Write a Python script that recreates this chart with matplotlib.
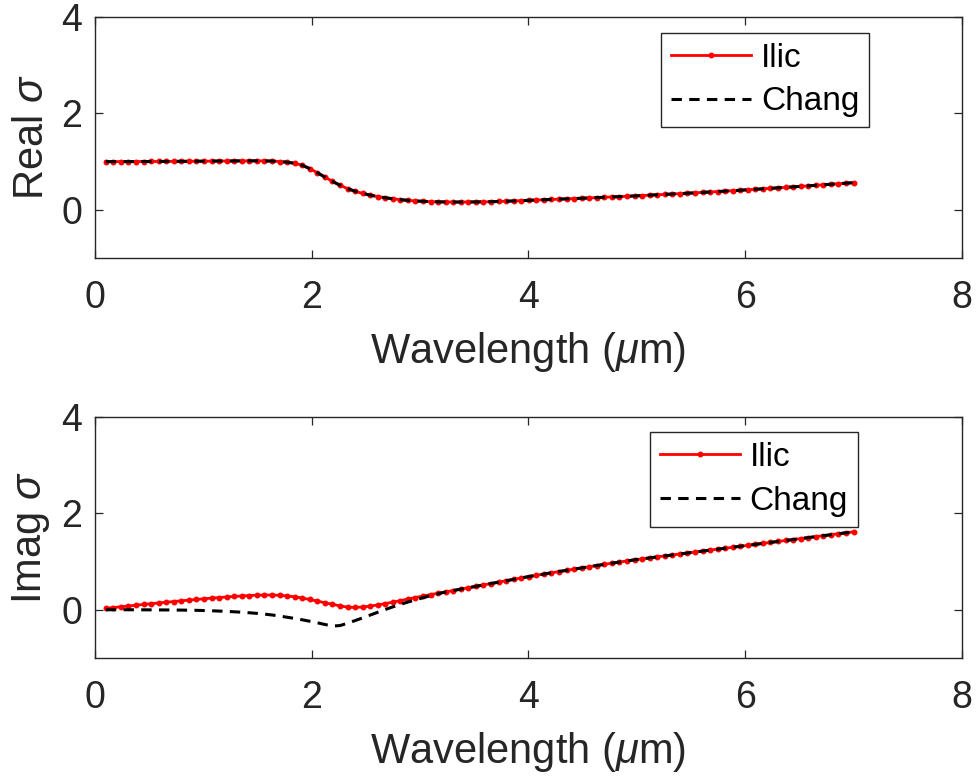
import numpy as np
import matplotlib
matplotlib.use('Agg')
from matplotlib import pyplot as plt

plt.rcParams['font.family'] = ['Liberation Sans', 'DejaVu Sans']
plt.rcParams['mathtext.fontset'] = 'custom'
plt.rcParams['mathtext.it'] = 'Liberation Sans:italic'
plt.rcParams['mathtext.rm'] = 'Liberation Sans'

# wavelength grid (um), 100 samples from 0.1 to 7
wavelength = np.linspace(0.1, 7.0, 100)

real_ilic = [
    1.000, 1.000, 1.001, 1.001, 1.002, 1.002, 1.003, 1.003, 1.004, 1.005,
    1.006, 1.007, 1.008, 1.009, 1.010, 1.012, 1.013, 1.014, 1.015, 1.016,
    1.016, 1.015, 1.011, 1.002, 0.988, 0.966, 0.925, 0.855, 0.770, 0.680,
    0.590, 0.510, 0.440, 0.385, 0.340, 0.305, 0.275, 0.250, 0.229, 0.211,
    0.196, 0.184, 0.176, 0.170, 0.166, 0.163, 0.162, 0.162, 0.163, 0.164,
    0.166, 0.169, 0.173, 0.178, 0.184, 0.190, 0.197, 0.203, 0.209, 0.215,
    0.221, 0.228, 0.234, 0.240, 0.247, 0.253, 0.260, 0.267, 0.274, 0.281,
    0.288, 0.296, 0.304, 0.312, 0.320, 0.328, 0.336, 0.344, 0.353, 0.361,
    0.370, 0.379, 0.388, 0.397, 0.406, 0.416, 0.426, 0.436, 0.446, 0.456,
    0.466, 0.476, 0.487, 0.497, 0.508, 0.519, 0.530, 0.541, 0.552, 0.563]

# Chang's real part lies on top of Ilic's
real_chang = list(real_ilic)

imag_ilic = [
    0.030, 0.046, 0.062, 0.078, 0.094, 0.110, 0.126, 0.141, 0.156, 0.171,
    0.186, 0.200, 0.214, 0.228, 0.241, 0.253, 0.265, 0.276, 0.286, 0.295,
    0.302, 0.306, 0.306, 0.300, 0.288, 0.268, 0.243, 0.213, 0.180, 0.146,
    0.114, 0.080, 0.055, 0.048, 0.058, 0.076, 0.100, 0.128, 0.158, 0.190,
    0.222, 0.254, 0.285, 0.315, 0.343, 0.370, 0.399, 0.428, 0.457, 0.486,
    0.515, 0.544, 0.573, 0.602, 0.631, 0.660, 0.689, 0.715, 0.741, 0.767,
    0.793, 0.818, 0.843, 0.868, 0.893, 0.918, 0.942, 0.966, 0.990, 1.013,
    1.036, 1.056, 1.076, 1.097, 1.117, 1.137, 1.157, 1.177, 1.197, 1.217,
    1.237, 1.257, 1.277, 1.297, 1.317, 1.337, 1.357, 1.377, 1.397, 1.417,
    1.437, 1.457, 1.477, 1.497, 1.517, 1.537, 1.557, 1.577, 1.597, 1.617]

# Chang's imaginary part differs below ~3.2 um, then joins Ilic
imag_chang = [
    0.000, 0.000, 0.000, 0.000, 0.000, -0.001, -0.002, -0.003, -0.004, -0.005,
    -0.007, -0.009, -0.012, -0.016, -0.021, -0.027, -0.034, -0.042, -0.051, -0.062,
    -0.075, -0.090, -0.108, -0.130, -0.155, -0.180, -0.208, -0.238, -0.270, -0.305,
    -0.338, -0.328, -0.280, -0.225, -0.168, -0.110, -0.052, 0.005, 0.060, 0.112,
    0.160, 0.205, 0.250, 0.292, 0.332] + imag_ilic[45:]

xticks = [0, 2, 4, 6, 8]
yticks = [0, 2, 4]
axis_gray = '#262626'

fig = plt.figure(figsize=(9.78, 7.76), dpi=100)
ax1 = fig.add_axes([0.0971, 0.6675, 0.8865, 0.3106])
ax2 = fig.add_axes([0.0971, 0.1521, 0.8865, 0.3106])

panels = [(ax1, real_ilic, real_chang, r'Real $\sigma$', (0.893, 0.935)),
          (ax2, imag_ilic, imag_chang, r'Imag $\sigma$', (0.880, 0.938))]

for ax, ilic, chang, ylab, legpos in panels:
    ax.plot(wavelength, ilic, '-', color='red', lw=2.0, marker='.',
            markersize=6.5, label='Ilic')
    ax.plot(wavelength, chang, color='black', lw=2.2,
            dashes=(3.4, 2.4), label='Chang')
    ax.set_xlim(0, 8)
    ax.set_ylim(-1, 4)
    ax.set_xticks(xticks)
    ax.set_yticks(yticks)
    ax.tick_params(direction='in', top=True, right=True, length=6, width=0.9,
                   labelsize=27, colors=axis_gray, labelcolor=axis_gray)
    ax.tick_params(axis='x', pad=16)
    ax.tick_params(axis='y', pad=9)
    for s in ax.spines.values():
        s.set_color(axis_gray)
        s.set_linewidth(1.0)
    ax.set_xlabel(r'Wavelength ($\mu$m)', fontsize=30, color=axis_gray)
    ax.set_ylabel(ylab, fontsize=30, color=axis_gray)
    ax.xaxis.set_label_coords(0.5, -0.30)
    ax.yaxis.set_label_coords(-0.05, 0.5)
    leg = ax.legend(loc='upper right', bbox_to_anchor=legpos,
                    borderaxespad=0, fontsize=24, handlelength=2.4,
                    handletextpad=0.3, borderpad=0.3, labelspacing=0.38,
                    fancybox=False, framealpha=1, edgecolor=axis_gray)
    leg.get_frame().set_linewidth(1.0)
    for t in leg.get_texts():
        t.set_color('black')

fig.savefig('out.png', dpi=100)
